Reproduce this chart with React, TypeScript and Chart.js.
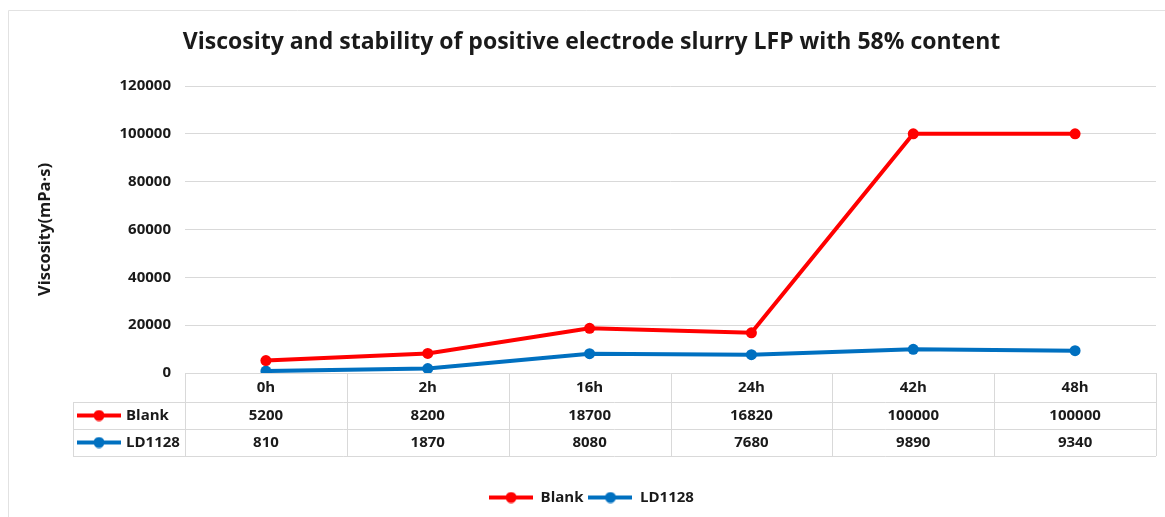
import React, { useEffect, useRef } from 'react';
import { Chart, registerables } from 'chart.js';

Chart.register(...registerables);

// Sampling times and measured viscosities (mPa·s)
const timeLabels = ['0h', '2h', '16h', '24h', '42h', '48h'];
const blankValues = [5200, 8200, 18700, 16820, 100000, 100000];
const ld1128Values = [810, 1870, 8080, 7680, 9890, 9340];
const seriesNames = ['Blank', 'LD1128'];
const seriesColors = ['#ff0000', '#0070c0'];
const yMin = 0;
const yMax = 120000;
const yStep = 20000;

const FONT = "'Open Sans', 'Liberation Sans', sans-serif";
const TEXT = '#1a1a1a';
const RULE = '#d9d9d9';

// Small "line with a dot" swatch used by the legend and the data table
function makeKey(color: string): HTMLCanvasElement {
  const c = document.createElement('canvas');
  c.width = 44;
  c.height = 12;
  const g = c.getContext('2d')!;
  g.strokeStyle = color;
  g.lineWidth = 4;
  g.beginPath();
  g.moveTo(0, 6);
  g.lineTo(44, 6);
  g.stroke();
  g.fillStyle = color;
  g.beginPath();
  g.arc(22, 6, 5.5, 0, Math.PI * 2);
  g.fill();
  return c;
}

export default function App() {
  const canvasRef = useRef<HTMLCanvasElement | null>(null);

  useEffect(() => {
    const canvas = canvasRef.current;
    if (!canvas) return;
    const keys = seriesColors.map(makeKey);
    const seriesValues = [blankValues, ld1128Values];

    // Frame around the chart and the data table under the x axis
    const dataTable = {
      id: 'dataTable',
      beforeDraw(chart: any) {
        const { ctx, width, height } = chart;
        ctx.save();
        ctx.fillStyle = '#ffffff';
        ctx.fillRect(0, 0, width, height);
        ctx.strokeStyle = '#e2e2e2';
        ctx.lineWidth = 1;
        ctx.beginPath();
        ctx.moveTo(8.5, height);
        ctx.lineTo(8.5, 10.5);
        ctx.lineTo(width, 10.5);
        ctx.stroke();
        ctx.restore();
      },
      afterDraw(chart: any) {
        const { ctx, chartArea } = chart;
        const x = chart.scales.x;
        const top = chartArea.bottom;
        const headerH = 29;
        const rowH = 27;
        const keyLeft = 73;
        const bottom = top + headerH + rowH * 2;
        const n = timeLabels.length;
        const bounds: number[] = [x.left];
        for (let i = 0; i < n - 1; i++) {
          bounds.push((x.getPixelForValue(i) + x.getPixelForValue(i + 1)) / 2);
        }
        bounds.push(x.right);

        ctx.save();
        ctx.strokeStyle = RULE;
        ctx.lineWidth = 1;
        ctx.beginPath();
        for (let r = 1; r <= 2; r++) {
          const y = Math.round(top + headerH + rowH * (r - 1)) + 0.5;
          ctx.moveTo(keyLeft, y);
          ctx.lineTo(x.right, y);
        }
        const yb = Math.round(bottom) + 0.5;
        ctx.moveTo(keyLeft, yb);
        ctx.lineTo(x.right, yb);
        ctx.moveTo(keyLeft + 0.5, top + headerH);
        ctx.lineTo(keyLeft + 0.5, bottom);
        bounds.forEach((bx) => {
          const px = Math.round(bx) + 0.5;
          ctx.moveTo(px, top);
          ctx.lineTo(px, bottom);
        });
        ctx.stroke();

        ctx.fillStyle = TEXT;
        ctx.font = `bold 15px ${FONT}`;
        ctx.textBaseline = 'middle';
        seriesNames.forEach((name, r) => {
          const cy = top + headerH + rowH * r + rowH / 2;
          ctx.drawImage(keys[r], keyLeft + 4, cy - 6);
          ctx.textAlign = 'left';
          ctx.fillText(name, keyLeft + 53, cy);
          ctx.textAlign = 'center';
          seriesValues[r].forEach((v, i) => {
            ctx.fillText(String(v), x.getPixelForValue(i), cy);
          });
        });
        ctx.restore();
      },
    };

    const chart = new Chart(canvas, {
      type: 'line',
      data: {
        labels: timeLabels,
        datasets: seriesNames.map((name, i) => ({
          label: name,
          data: seriesValues[i],
          borderColor: seriesColors[i],
          backgroundColor: seriesColors[i],
          borderWidth: 4,
          pointRadius: 5.5,
          pointBorderWidth: 0,
          pointBackgroundColor: seriesColors[i],
          tension: 0,
        })),
      },
      options: {
        responsive: false,
        animation: false,
        layout: { padding: { left: 27, right: 9, top: 0, bottom: 2 } },
        plugins: {
          title: {
            display: true,
            text: 'Viscosity and stability of positive electrode slurry LFP with 58% content',
            color: TEXT,
            font: { family: FONT, size: 23, weight: 'bold' },
            padding: { top: 29, bottom: 29.4 },
          },
          legend: {
            position: 'bottom',
            labels: {
              usePointStyle: true,
              pointStyleWidth: 44,
              padding: 5,
              color: TEXT,
              font: { family: FONT, size: 15, weight: 'bold' },
              generateLabels(chart: any) {
                const base = (Chart.defaults.plugins.legend.labels as any).generateLabels(chart);
                return base.map((item: any, i: number) => ({ ...item, pointStyle: keys[i] }));
              },
            },
          },
          tooltip: { enabled: false },
        },
        scales: {
          x: {
            type: 'category',
            offset: true,
            grid: { display: false, drawTicks: false },
            border: { display: false },
            ticks: {
              color: TEXT,
              padding: 6,
              font: { family: FONT, size: 15, weight: 'bold' },
            },
            afterFit(scale: any) {
              scale.height = 112;
            },
          },
          y: {
            min: yMin,
            max: yMax,
            grid: { color: RULE, drawTicks: false },
            border: { display: false },
            ticks: {
              stepSize: yStep,
              padding: 14,
              color: TEXT,
              font: { family: FONT, size: 15, weight: 'bold' },
              callback: (v: any) => String(v),
            },
            title: {
              display: true,
              text: 'Viscosity(mPa·s)',
              color: TEXT,
              padding: { top: 8, bottom: 0 },
              font: { family: FONT, size: 16.5, weight: 'bold' },
            },
            afterFit(scale: any) {
              scale.width = 158;
            },
          },
        },
      },
      plugins: [dataTable],
    });

    return () => chart.destroy();
  }, []);

  return (
    <div style={{ position: 'fixed', left: 0, top: 0, width: 1165, height: 517, background: '#fff' }}>
      <canvas ref={canvasRef} width={1165} height={517} />
    </div>
  );
}
